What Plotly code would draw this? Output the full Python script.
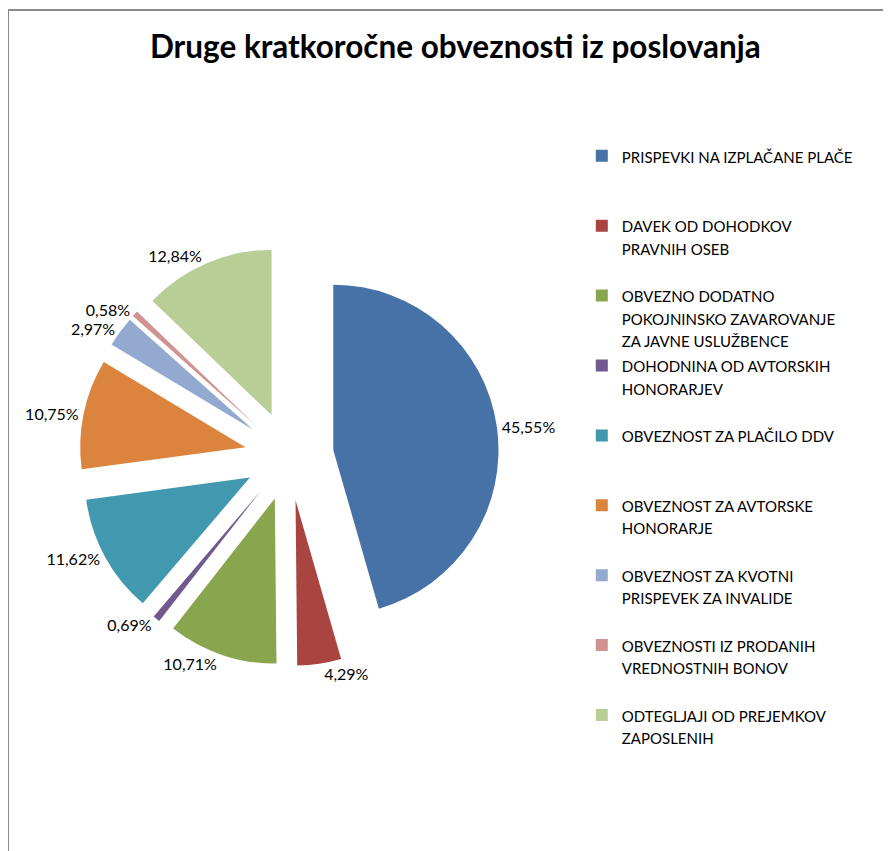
import plotly.graph_objects as go

labels = [
    "PRISPEVKI NA IZPLAČANE PLAČE",
    "DAVEK OD DOHODKOV<br>PRAVNIH OSEB",
    "OBVEZNO DODATNO<br>POKOJNINSKO ZAVAROVANJE<br>ZA JAVNE USLUŽBENCE",
    "DOHODNINA OD AVTORSKIH<br>HONORARJEV",
    "OBVEZNOST ZA PLAČILO DDV",
    "OBVEZNOST ZA AVTORSKE<br>HONORARJE",
    "OBVEZNOST ZA KVOTNI<br>PRISPEVEK ZA INVALIDE",
    "OBVEZNOSTI IZ PRODANIH<br>VREDNOSTNIH BONOV",
    "ODTEGLJAJI OD PREJEMKOV<br>ZAPOSLENIH",
]
values = [45.55, 4.29, 10.71, 0.69, 11.62, 10.75, 2.97, 0.58, 12.84]
colors = ["#4672A8", "#A94441", "#89A54E", "#71588F", "#4198AF",
          "#DB843D", "#93A9CF", "#D19392", "#B9CD96"]


# pad legend labels to 3 lines so item spacing is uniform
def pad(s):
    lines = s.split("<br>")
    lines += ["\u00a0"] * (3 - len(lines))
    return "<br>".join('<span style="font-size:15px">%s</span>' % l for l in lines)


legend_labels = [pad(l) for l in labels]

fig = go.Figure(go.Pie(
    labels=legend_labels,
    values=values,
    sort=False,
    direction="clockwise",
    rotation=0,
    pull=[0.27] * len(values),
    marker=dict(colors=colors, line=dict(width=0)),
    textposition="outside",
    texttemplate="%{percent:.2%}",
    textfont=dict(family="Lato", size=16, color="#000000"),
    domain=dict(x=[0.080, 0.551], y=[0.2264, 0.7204]),
    hoverinfo="label+percent",
))

fig.update_layout(
    width=891, height=851,
    margin=dict(l=0, r=0, t=0, b=0, autoexpand=False),
    paper_bgcolor="white",
    separators=",.",
    title=dict(text="<b>Druge kratkoročne obveznosti iz poslovanja</b>",
               x=0.502, xanchor="center", y=0.954, yanchor="middle",
               font=dict(family="Lato", size=31.5, color="#000000")),
    showlegend=True,
    legend=dict(x=0.644, xanchor="left", y=0.847, yanchor="top",
                font=dict(family="Lato", size=17.15, color="#000000"),
                valign="top", itemwidth=30, tracegroupgap=0,
                bgcolor="rgba(0,0,0,0)"),
    shapes=[dict(type="rect", xref="paper", yref="paper",
                 x0=0.0, x1=1.02, y0=-0.02, y1=1 - 2 / 851,
                 line=dict(color="#8C8C8C", width=2), fillcolor="rgba(0,0,0,0)",
                 layer="below")],
)

fig.write_html("out.html")
